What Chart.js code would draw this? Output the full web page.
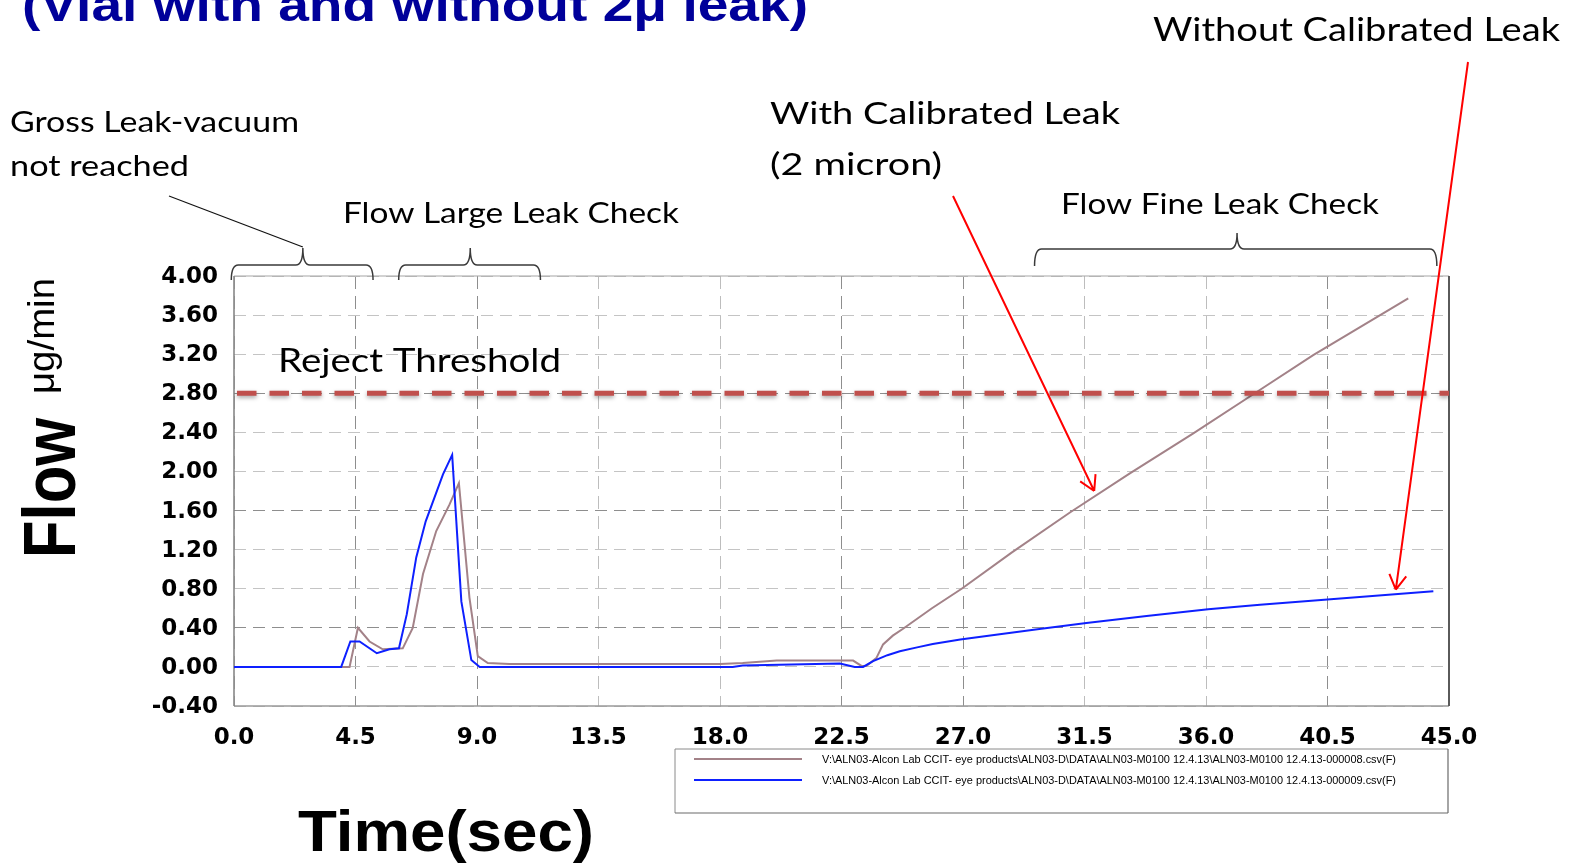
<!DOCTYPE html>
<html>
<head>
<meta charset="utf-8">
<title>Flow vs Time</title>
<script src="https://cdn.jsdelivr.net/npm/chart.js@4.4.1/dist/chart.umd.min.js"></script>
<style>
  html, body { margin: 0; padding: 0; background: #fff; }
  #wrap { width: 1571px; height: 868px; }
</style>
</head>
<body>
<div id="wrap"><canvas id="chart" width="1571" height="868"></canvas></div>
<script>
// brown trace: vial with the 2 micron calibrated leak
const timeWithLeak = [0.0, 4.28, 4.59, 5.02, 5.51, 6.25, 6.62, 7.0, 7.49, 7.98, 8.33, 8.72, 9.03, 9.4,
  10.2, 18.0, 18.84, 20.1, 22.93, 23.24, 23.42, 23.79, 24.04, 24.4, 24.78, 25.85, 26.95, 28.8, 30.96,
  33.18, 35.53, 37.75, 39.97, 43.49];
const flowWithLeak = [0.0, 0.0, 0.4, 0.26, 0.18, 0.19, 0.4, 0.95, 1.39, 1.66, 1.88, 0.71, 0.11, 0.04,
  0.03, 0.03, 0.04, 0.065, 0.065, 0.01, 0.01, 0.09, 0.23, 0.32, 0.39, 0.6, 0.8, 1.17, 1.58,
  1.98, 2.39, 2.79, 3.19, 3.77];

// blue trace: vial without leak
const timeWithoutLeak = [0.0, 3.97, 4.31, 4.65, 5.29, 5.76, 6.11, 6.4, 6.75, 7.1, 7.74, 8.08, 8.42, 8.79,
  9.1, 18.47, 18.84, 22.44, 22.99, 23.3, 23.67, 24.2, 24.66, 25.3, 25.88, 26.9, 28.36, 29.9, 31.57,
  33.8, 36.08, 38.0, 40.5, 44.42];
const flowWithoutLeak = [0.0, 0.0, 0.26, 0.26, 0.14, 0.18, 0.19, 0.54, 1.12, 1.49, 1.97, 2.17, 0.67, 0.07,
  0.0, 0.0, 0.015, 0.035, 0.0, 0.0, 0.06, 0.12, 0.16, 0.2, 0.235, 0.28, 0.335, 0.39, 0.45,
  0.52, 0.59, 0.635, 0.69, 0.775];

const rejectThreshold = 2.8;
const timeRange = [0, 45];
const flowRange = [-0.4, 4.0];
const timeStep = 4.5;
const flowStep = 0.4;

const fileLabels = [
  "V:\\ALN03-Alcon Lab CCIT- eye products\\ALN03-D\\DATA\\ALN03-M0100 12.4.13\\ALN03-M0100 12.4.13-000008.csv(F)",
  "V:\\ALN03-Alcon Lab CCIT- eye products\\ALN03-D\\DATA\\ALN03-M0100 12.4.13\\ALN03-M0100 12.4.13-000009.csv(F)",
];

const toPoints = (xs, ys) => xs.map((x, i) => ({ x: x, y: ys[i] }));

// text drawn to a given width (the slide stretched the chart sideways)
function fitText(ctx, text, font, x, y, width, rot, sy) {
  ctx.save();
  ctx.font = font;
  ctx.textAlign = "left";
  ctx.textBaseline = "alphabetic";
  ctx.translate(x, y);
  if (rot) ctx.rotate(rot);
  ctx.scale(width / ctx.measureText(text).width, sy || 1);
  ctx.fillText(text, 0, 0);
  ctx.restore();
}

function brace(ctx, x0, x1, xm, yEnd, yBar, yTip) {
  const r = 7;
  ctx.beginPath();
  ctx.moveTo(x0, yEnd);
  ctx.quadraticCurveTo(x0, yBar, x0 + r, yBar);
  ctx.lineTo(xm - r, yBar);
  ctx.quadraticCurveTo(xm, yBar, xm, yTip);
  ctx.quadraticCurveTo(xm, yBar, xm + r, yBar);
  ctx.lineTo(x1 - r, yBar);
  ctx.quadraticCurveTo(x1, yBar, x1, yEnd);
  ctx.stroke();
}

function arrow(ctx, x0, y0, x1, y1) {
  const ang = Math.atan2(y1 - y0, x1 - x0);
  ctx.beginPath();
  ctx.moveTo(x0, y0);
  ctx.lineTo(x1, y1);
  [-1, 1].forEach((s) => {
    const a = ang + Math.PI + s * Math.PI / 6;
    ctx.moveTo(x1, y1);
    ctx.lineTo(x1 + 17 * Math.cos(a), y1 + 17 * Math.sin(a));
  });
  ctx.stroke();
}

function side(ctx, x0, y0, x1, y1, color, w) {
  ctx.strokeStyle = color;
  ctx.lineWidth = w;
  ctx.beginPath();
  ctx.moveTo(x0, y0);
  ctx.lineTo(x1, y1);
  ctx.stroke();
}

const near = (v, list) => list.some((t) => Math.abs(v - t) < 1e-6);

const annotations = {
  id: "annotations",
  beforeDatasetsDraw(chart) {
    const { ctx, chartArea: a } = chart;
    ctx.save();
    side(ctx, a.left, a.top, a.right, a.top, "#a6a6a6", 1.2);
    side(ctx, a.left, a.bottom, a.right, a.bottom, "#9a9a9a", 1.5);
    side(ctx, a.left, a.top, a.left, a.bottom, "#7f7f7f", 1.5);
    side(ctx, a.right, a.top, a.right, a.bottom, "#5a5a5a", 2);
    ctx.restore();
  },
  beforeDatasetDraw(chart, args) {
    if (args.index === 2) {
      const ctx = chart.ctx;
      ctx.save();
      ctx.shadowColor = "rgba(0,0,0,0.35)";
      ctx.shadowBlur = 4;
      ctx.shadowOffsetY = 2;
    }
  },
  afterDatasetDraw(chart, args) {
    if (args.index === 2) chart.ctx.restore();
  },
  afterDraw(chart) {
    const ctx = chart.ctx;
    const xs = chart.scales.x, ys = chart.scales.y;
    ctx.save();

    // title (cut off at the top of the slide)
    ctx.fillStyle = "#00009a";
    fitText(ctx, "(Vial with and without 2\u03bc leak)", 'bold 46px "Liberation Sans"', 22, 21, 786);

    // axis titles
    ctx.fillStyle = "#000";
    fitText(ctx, "Flow", 'bold 61px "Liberation Sans"', 75, 558, 140, -Math.PI / 2, 1.2);
    fitText(ctx, "\u03bcg/min", '32px "Liberation Sans"', 54, 394, 116, -Math.PI / 2, 1.15);
    fitText(ctx, "Time(sec)", 'bold 58px "Liberation Sans"', 298, 851, 296);

    // callout texts
    const small = '28px "Lato"', big = '31px "Lato"';
    fitText(ctx, "Gross Leak-vacuum", small, 10, 132, 289);
    fitText(ctx, "not reached", small, 10, 176, 179);
    fitText(ctx, "Flow Large Leak Check", small, 343, 223, 336);
    fitText(ctx, "Flow Fine Leak Check", small, 1061, 214, 318);
    fitText(ctx, "With Calibrated Leak", big, 770, 124, 350);
    fitText(ctx, "(2 micron)", big, 770, 175, 172);
    fitText(ctx, "Without Calibrated Leak", '32px "Lato"', 1153, 41, 407);
    fitText(ctx, "Reject Threshold", '32px "Lato"', 278, 372, 283);

    // braces over the test phases
    ctx.strokeStyle = "#3a3a3a";
    ctx.lineWidth = 1.5;
    const b1 = [xs.getPixelForValue(-0.1), xs.getPixelForValue(5.15), xs.getPixelForValue(2.55)];
    const b2 = [xs.getPixelForValue(6.1), xs.getPixelForValue(11.35), xs.getPixelForValue(8.75)];
    const b3 = [xs.getPixelForValue(29.65), xs.getPixelForValue(44.55), xs.getPixelForValue(37.15)];
    brace(ctx, b1[0], b1[1], b1[2], 280, 265, 248);
    brace(ctx, b2[0], b2[1], b2[2], 280, 265, 248);
    brace(ctx, b3[0], b3[1], b3[2], 266, 249, 233);

    // leader line from the gross leak note
    ctx.strokeStyle = "#111";
    ctx.lineWidth = 1.2;
    ctx.beginPath();
    ctx.moveTo(169, 196);
    ctx.lineTo(b1[2], 247);
    ctx.stroke();

    // red arrows to the two traces
    ctx.strokeStyle = "#ff0000";
    ctx.lineWidth = 2;
    arrow(ctx, 953, 196, xs.getPixelForValue(31.86), ys.getPixelForValue(1.8));
    arrow(ctx, 1468, 62, xs.getPixelForValue(43.03), ys.getPixelForValue(0.79));

    // legend box with the two file names
    const lx = 675, ly = 749, lw = 773, lh = 64;
    ctx.fillStyle = "#fff";
    ctx.fillRect(lx, ly, lw, lh);
    side(ctx, lx, ly, lx + lw, ly, "#8a8a8a", 1);
    side(ctx, lx, ly, lx, ly + lh, "#8a8a8a", 1);
    side(ctx, lx, ly + lh, lx + lw, ly + lh, "#6a6a6a", 1.2);
    side(ctx, lx + lw, ly, lx + lw, ly + lh, "#6a6a6a", 1.2);
    chart.data.datasets.slice(0, 2).forEach((ds, i) => {
      const yy = 759 + i * 21;
      side(ctx, 694, yy, 802, yy, ds.borderColor, 2);
      ctx.fillStyle = "#000";
      fitText(ctx, ds.label, '10.5px "Liberation Sans"', 822, yy + 4, 574);
    });

    ctx.restore();
  },
};

const tickFont = { family: "DejaVu Sans", size: 23, weight: "bold" };

new Chart(document.getElementById("chart"), {
  type: "line",
  data: {
    datasets: [
      {
        label: fileLabels[0],
        data: toPoints(timeWithLeak, flowWithLeak),
        borderColor: "rgb(163,130,136)",
        borderWidth: 2,
        pointRadius: 0,
        tension: 0,
        order: 2,
      },
      {
        label: fileLabels[1],
        data: toPoints(timeWithoutLeak, flowWithoutLeak),
        borderColor: "rgb(14,32,255)",
        borderWidth: 2,
        pointRadius: 0,
        tension: 0,
        order: 1,
      },
      {
        label: "Reject Threshold",
        data: toPoints(timeRange, [rejectThreshold, rejectThreshold]),
        borderColor: "rgb(192,80,77)",
        borderWidth: 5,
        borderDash: [19.5, 13],
        borderDashOffset: -3,
        pointRadius: 0,
        order: 0,
      },
    ],
  },
  options: {
    responsive: false,
    animation: false,
    events: [],
    layout: { padding: { left: 0, top: 276, right: 122, bottom: 0 } },
    plugins: {
      legend: { display: false },
      tooltip: { enabled: false },
    },
    scales: {
      x: {
        type: "linear",
        min: timeRange[0],
        max: timeRange[1],
        afterFit: (scale) => { scale.height = 162; },
        ticks: {
          stepSize: timeStep,
          autoSkip: false,
          maxRotation: 0,
          padding: 18,
          color: "#000",
          font: tickFont,
          callback: (v) => v.toFixed(1),
        },
        grid: {
          drawTicks: false,
          lineWidth: 1,
          color: (c) => near(c.tick.value, [4.5, 9, 22.5, 27, 40.5]) ? "#8e8e8e" : "#bdbdbd",
        },
        border: { display: false, dash: [13, 7] },
      },
      y: {
        min: flowRange[0],
        max: flowRange[1],
        afterFit: (scale) => { scale.width = 234; },
        ticks: {
          stepSize: flowStep,
          padding: 16,
          labelOffset: 1,
          color: "#000",
          font: tickFont,
          callback: (v) => (Math.abs(v) < 1e-9 ? 0 : v).toFixed(2),
        },
        grid: {
          drawTicks: false,
          lineWidth: 1,
          color: (c) => near(c.tick.value, [0.4, 1.6, 2.8]) ? "#8e8e8e" : "#c4c4c4",
        },
        border: { display: false, dash: [12, 7] },
      },
    },
  },
  plugins: [annotations],
});
</script>
</body>
</html>
